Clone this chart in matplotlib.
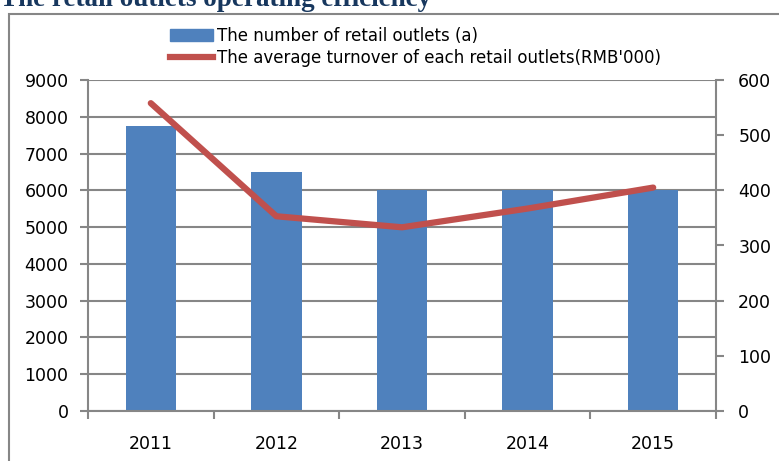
import matplotlib.pyplot as plt
import matplotlib.patches as mpatches
from matplotlib.lines import Line2D

years = ['2011', '2012', '2013', '2014', '2015']
outlets = [7760, 6490, 6010, 6010, 6010]
avg_turnover = [558, 353, 333, 367, 405]

blue = '#4F81BD'
red = '#C0504D'
grey = '#868686'

fig = plt.figure(figsize=(7.79, 4.61), dpi=100)
plt.rcParams['font.family'] = ['DejaVu Sans']

# title cut off at the top like the original
fig.text(0.0, 1 - 6 / 461, 'The retail outlets operating efficiency', family='Liberation Serif',
         fontweight='bold', fontsize=19.5, color='#17375E', va='baseline', ha='left')

# outer chart frame
frame = mpatches.Rectangle((9 / 779, -0.1), 1.0, 1 - 14 / 461 + 0.1, transform=fig.transFigure,
                           fill=False, edgecolor=grey, linewidth=1.5)
fig.patches.append(frame)

ax = fig.add_axes([88 / 779, 50 / 461, (716 - 88) / 779, (411 - 80) / 461])
x = list(range(len(years)))
ax.bar(x, outlets, width=0.4, color=blue, zorder=2)
ax.set_ylim(0, 9000)
ax.set_yticks(range(0, 9001, 1000))
ax.set_xlim(-0.5, 4.5)
ax.set_xticks([i - 0.5 for i in range(6)], minor=False)
ax.set_xticklabels([])
ax.set_xticks(x, minor=True)
ax.set_xticklabels(years, minor=True)
ax.tick_params(axis='x', which='minor', length=0, pad=17, labelsize=12.5)
ax.tick_params(axis='x', which='major', length=6, color=grey, width=1.5)
ax.tick_params(axis='y', length=6, color=grey, width=1.5, labelsize=12.5, pad=8)
ax.grid(axis='y', color=grey, linewidth=1.5, zorder=0)
ax.set_axisbelow(True)
for s in ['top', 'right']:
    ax.spines[s].set_visible(False)
ax.spines['left'].set_color(grey)
ax.spines['bottom'].set_color(grey)
ax.spines['left'].set_linewidth(1.5)
ax.spines['bottom'].set_linewidth(1.5)

ax2 = ax.twinx()
ax2.plot(x, avg_turnover, color=red, linewidth=4.5, solid_capstyle='round', zorder=3)
ax2.set_ylim(0, 600)
ax2.set_yticks(range(0, 601, 100))
ax2.tick_params(axis='y', length=6, color=grey, width=1.5, labelsize=12.5, pad=10)
for s in ['top', 'left', 'bottom']:
    ax2.spines[s].set_visible(False)
ax2.spines['right'].set_color(grey)
ax2.spines['right'].set_linewidth(1.5)

handles = [mpatches.Patch(color=blue), Line2D([0], [0], color=red, linewidth=4.5)]
labels = ['The number of retail outlets (a)',
          "The average turnover of each retail outlets(RMB'000)"]
fig.legend(handles, labels, loc='upper left', bbox_to_anchor=(163 / 779, 1 - 20 / 461),
           frameon=False, fontsize=12, handlelength=2.6, handletextpad=0.25,
           labelspacing=0.25, borderaxespad=0)

fig.savefig('out.png', dpi=100)
